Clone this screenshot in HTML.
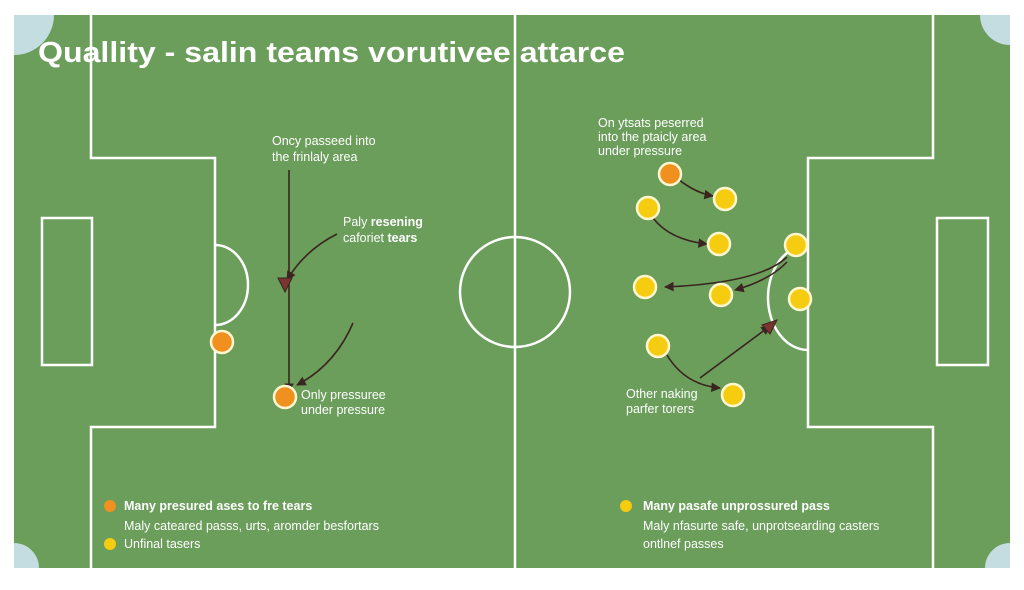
<!DOCTYPE html>
<html><head><meta charset="utf-8"><style>
body{margin:0;width:1024px;height:585px;background:#fff;overflow:hidden;font-family:"Liberation Sans",sans-serif}
</style></head><body>
<svg width="1024" height="585" viewBox="0 0 1024 585" xmlns="http://www.w3.org/2000/svg">
<defs>
<marker id="ah" viewBox="0 0 10 10" refX="9" refY="5" markerWidth="6" markerHeight="6" orient="auto"><path d="M0,0L10,5L0,10z" fill="#3a2520"/></marker>
</defs>
<rect x="14" y="15" width="996" height="553" fill="#6b9d5b"/>
<path d="M14,15 h40 a40,40 0 0 1 -40,40z" fill="#c4dde0"/>
<path d="M1010,15 h-30 a30,30 0 0 0 30,30z" fill="#c4dde0"/>
<path d="M14,568 v-25 a25,25 0 0 1 25,25z" fill="#c4dde0"/>
<path d="M1010,568 v-25 a25,25 0 0 0 -25,25z" fill="#c4dde0"/>
<g stroke="#fff" stroke-width="2.5" fill="none">
<path d="M91,15 V158 H215 V427 H91 V568"/>
<rect x="42" y="218" width="50" height="147"/>
<path d="M215,245 A33,40 0 0 1 215,325"/>
<line x1="515" y1="15" x2="515" y2="568"/>
<circle cx="515" cy="292" r="55"/>
<path d="M933,15 V158 H808 V427 H933 V568"/>
<rect x="937" y="218" width="51" height="147"/>
<path d="M808,245 A40,52.5 0 0 0 808,350"/>
</g>
<text x="38" y="62" fill="#fff" font-size="29" font-weight="bold" textLength="587" lengthAdjust="spacingAndGlyphs">Quallity - salin teams vorutivee attarce</text>
<g fill="#fff" font-size="12.5">
<text x="272" y="145">Oncy passeed into</text><text x="272" y="161">the frinlaly area</text>
<text x="343" y="226">Paly <tspan font-weight="bold">resening</tspan></text><text x="343" y="242">caforiet <tspan font-weight="bold">tears</tspan></text>
<text x="301" y="399">Only pressuree</text><text x="301" y="414">under pressure</text>
<text x="598" y="127">On ytsats peserred</text><text x="598" y="141">into the ptaicly area</text><text x="598" y="155">under pressure</text>
<text x="626" y="398">Other naking</text><text x="626" y="413">parfer torers</text>
<text x="124" y="510" font-weight="bold">Many presured ases to fre tears</text>
<text x="124" y="530">Maly cateared passs, urts, aromder besfortars</text>
<text x="124" y="548">Unfinal tasers</text>
<text x="643" y="510" font-weight="bold">Many pasafe unprossured pass</text>
<text x="643" y="530">Maly nfasurte safe, unprotsearding casters</text>
<text x="643" y="548">ontlnef passes</text>
</g>
<circle cx="110" cy="506" r="6" fill="#f0901e"/><circle cx="110" cy="544" r="6" fill="#f5cc10"/>
<circle cx="626" cy="506" r="6" fill="#f5cc10"/>
<g stroke="#3a2520" stroke-width="1.6" fill="none" marker-end="url(#ah)">
<line x1="289" y1="170" x2="289" y2="392"/>
<path d="M337,234 Q305,250 287,280"/>
<path d="M353,323 Q335,365 297,385"/>
<path d="M668,170 Q690,192 713,196"/>
<path d="M653,218 Q670,240 707,244"/>
<path d="M787,257 Q760,283 665,287"/>
<path d="M787,262 Q770,280 735,290"/>
<path d="M700,378 L770,326"/>
<path d="M667,355 Q685,385 720,388"/>
</g>
<path d="M278,278 L292,278 L285,292z" fill="#7a3530" stroke="#3a2520"/>
<path d="M762,325 L777,320 L770,334z" fill="#7a3530" stroke="#3a2520"/>
<g stroke="#fff7d0" stroke-width="2.5">
<circle cx="222" cy="342" r="11" fill="#f0901e"/>
<circle cx="285" cy="397" r="11" fill="#f0901e"/>
<circle cx="670" cy="174" r="11" fill="#f0901e"/>
<g fill="#f5cc10">
<circle cx="725" cy="199" r="11"/><circle cx="648" cy="208" r="11"/><circle cx="719" cy="244" r="11"/>
<circle cx="796" cy="245" r="11"/><circle cx="645" cy="287" r="11"/><circle cx="721" cy="295" r="11"/>
<circle cx="800" cy="299" r="11"/><circle cx="658" cy="346" r="11"/><circle cx="733" cy="395" r="11"/>
</g></g>
</svg>
</body></html>
